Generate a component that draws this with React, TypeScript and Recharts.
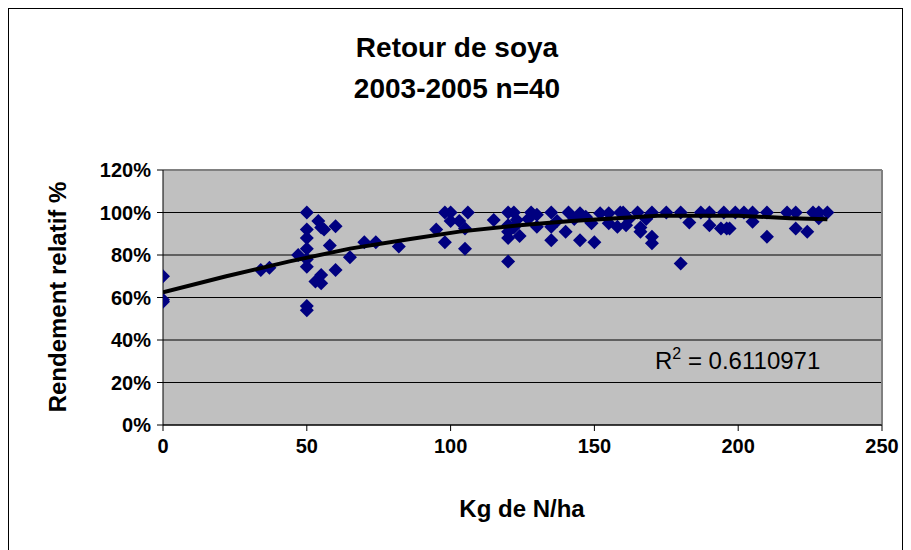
import React from 'react';
import { ComposedChart, Scatter, XAxis, YAxis, CartesianGrid, ReferenceLine } from 'recharts';

const pointsX = [
  0, 0, 0, 34, 37, 47,
  50, 50, 50, 50, 50, 50, 50, 50,
  53, 55, 55, 54, 55, 56, 60, 58, 60, 65,
  70, 74, 82,
  95, 98, 100, 98, 100, 103, 106, 105, 105,
  115, 120, 120, 120, 120, 120, 122, 123, 124, 122,
  128, 130, 130, 135, 135, 135, 127, 137,
  140, 141, 143, 145, 145, 147, 150, 149, 152, 155, 155, 158, 159,
  160, 161, 162, 165, 166, 166, 168, 170, 170, 170, 175, 180, 180, 183, 187, 190, 190, 194, 195, 196, 199,
  197, 202, 205, 205, 210, 210, 217, 220, 220, 224, 226, 228, 228, 231,
];
const pointsY = [
  70, 59, 58, 73, 74, 80,
  100, 92, 88, 83, 78, 74.5, 56, 54,
  67.5, 70.6, 66.7, 96, 93, 92, 93.5, 84.5, 73, 79,
  86, 86, 84,
  92, 100, 100, 86, 96, 96, 100, 92.5, 83,
  96.5, 100, 94, 88, 77, 91, 100, 96.5, 89, 93,
  100, 99, 93.3, 100, 93.3, 87, 97, 96,
  91, 100, 97, 99.6, 87, 98, 86, 95, 99.6, 95, 99.6, 93.3, 100,
  100, 94, 97, 100, 93, 91, 97, 100, 88.6, 85.5, 100, 100, 76, 95.3, 100, 100, 94, 92.5, 100, 92.5, 100,
  92.5, 100, 100, 95.7, 100, 88.6, 100, 100, 92.5, 91, 100, 100, 97.3, 100,
];

const trendX = [0, 22, 44, 65, 86, 103, 124, 142, 162, 172, 200, 218, 231];
const trendY = [62.5, 70, 77, 83, 87.5, 91, 94, 96, 97.6, 98.5, 98.5, 97.3, 96.8];

const xTicks = [0, 50, 100, 150, 200, 250];
const yTicks = [0, 20, 40, 60, 80, 100, 120];

const points = pointsX.map((x, i) => ({ x, y: pointsY[i] }));
const trend = trendX.map((x, i) => ({ x, y: trendY[i] }));

const FONT = '"Liberation Sans", Arial, sans-serif';

const Diamond = (props: any) => {
  const { cx, cy } = props;
  if (cx == null || cy == null) return <g />;
  const r = 7;
  return (
    <polygon
      points={`${cx},${cy - r} ${cx + r},${cy} ${cx},${cy + r} ${cx - r},${cy}`}
      fill="#000080"
    />
  );
};

const NoShape = () => <g />;

export default function App() {
  const W = 895;
  const H = 542;
  return (
    <div style={{ position: 'relative', width: W, height: H, background: '#fff' }}>
      <ComposedChart
        width={W}
        height={H}
        margin={{ top: 162, right: 21, left: 0, bottom: 85 }}
      >
        <CartesianGrid
          horizontal={true}
          vertical={false}
          stroke="#000"
          fill="#C0C0C0"
          fillOpacity={1}
        />
        <XAxis
          type="number"
          dataKey="x"
          domain={[0, 250]}
          ticks={xTicks}
          allowDataOverflow
          height={40}
          axisLine={{ stroke: '#000' }}
          tickLine={{ stroke: '#000' }}
          tickSize={6}
          tickMargin={8}
          tick={{ fill: '#000', fontSize: 20, fontWeight: 'bold', fontFamily: FONT }}
        />
        <YAxis
          type="number"
          dataKey="y"
          domain={[0, 120]}
          ticks={yTicks}
          allowDataOverflow
          width={155}
          axisLine={{ stroke: '#000' }}
          tickLine={{ stroke: '#000' }}
          tickSize={6}
          tickMargin={6}
          tickFormatter={(v: number) => `${v}%`}
          tick={{ fill: '#000', fontSize: 20, fontWeight: 'bold', fontFamily: FONT }}
        />
        <ReferenceLine y={120} stroke="#808080" strokeWidth={2} />
        <ReferenceLine x={250} stroke="#808080" strokeWidth={2} />
        <Scatter data={points} shape={Diamond} isAnimationActive={false} />
        <Scatter
          data={trend}
          shape={NoShape}
          line={{ stroke: '#000', strokeWidth: 4 }}
          lineType="joint"
          isAnimationActive={false}
        />
      </ComposedChart>
      <svg
        width={W}
        height={H}
        style={{ position: 'absolute', left: 0, top: 0, pointerEvents: 'none' }}
      >
        <rect x={0.5} y={0.5} width={W - 1} height={H + 10} fill="none" stroke="#000" strokeWidth={1} />
        <text x={449} y={39} textAnchor="middle" dominantBaseline="central" fontFamily={FONT} fontWeight="bold" fontSize={28} fill="#000">
          Retour de soya
        </text>
        <text x={449} y={80} textAnchor="middle" dominantBaseline="central" fontFamily={FONT} fontWeight="bold" fontSize={28} fill="#000">
          2003-2005 n=40
        </text>
        <text x={514} y={500} textAnchor="middle" dominantBaseline="central" fontFamily={FONT} fontWeight="bold" fontSize={24} fill="#000">
          Kg de N/ha
        </text>
        <text
          x={49}
          y={289}
          textAnchor="middle"
          dominantBaseline="central"
          transform="rotate(-90 49 289)"
          fontFamily={FONT}
          fontWeight="bold"
          fontSize={24}
          fill="#000"
        >
          Rendement relatif %
        </text>
        <text x={647} y={361} fontFamily={FONT} fontSize={24} fill="#000">
          <tspan>R</tspan>
          <tspan dy={-10} fontSize={16}>2</tspan>
          <tspan dy={10}> = 0.6110971</tspan>
        </text>
      </svg>
    </div>
  );
}
